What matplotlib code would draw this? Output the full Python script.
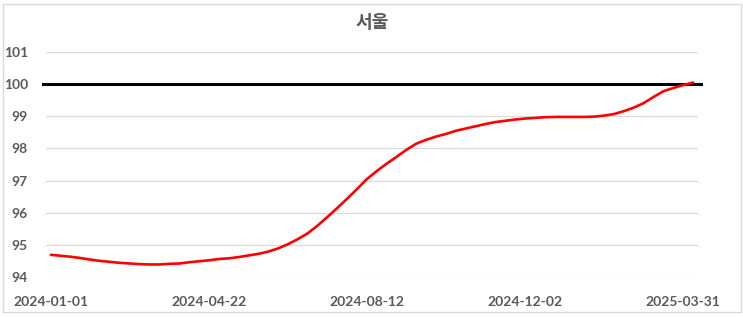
import matplotlib
matplotlib.use("Agg")
import matplotlib.pyplot as plt
from matplotlib.patches import Rectangle

title = "서울"
values = [94.69, 94.66, 94.63, 94.59, 94.54, 94.50, 94.47, 94.44, 94.42, 94.40,
          94.39, 94.39, 94.41, 94.42, 94.46, 94.49, 94.52, 94.56, 94.58, 94.62,
          94.67, 94.72, 94.79, 94.89, 95.02, 95.18, 95.36, 95.60, 95.87, 96.15,
          96.44, 96.74, 97.05, 97.30, 97.53, 97.74, 97.96, 98.15, 98.27, 98.37,
          98.45, 98.55, 98.62, 98.69, 98.76, 98.82, 98.86, 98.90, 98.93, 98.95,
          98.97, 98.98, 98.98, 98.98, 98.98, 98.99, 99.02, 99.07, 99.16, 99.27,
          99.41, 99.60, 99.78, 99.88, 99.97, 100.05]
tick_index = [0, 16, 32, 48, 64]
tick_labels = ["2024-01-01", "2024-04-22", "2024-08-12", "2024-12-02", "2025-03-31"]
y_ticks = [94, 95, 96, 97, 98, 99, 100, 101]
ref_level = 100

W, H = 743, 317
fig = plt.figure(figsize=(W / 100, H / 100), dpi=100)
ax = fig.add_axes([46 / W, 40 / H, (698 - 46) / W, (277 - 52) / H])

x = list(range(len(values)))
ax.plot(x, values, color="#ff0000", lw=1.9, zorder=3, solid_capstyle="round")
ax.axhline(ref_level, xmin=-0.004, xmax=1.004, color="black", lw=2.2, zorder=2, clip_on=False)

ax.set_xlim(-0.5, len(values) - 0.5)
ax.set_ylim(94, 101)
ax.set_yticks(y_ticks)
ax.set_xticks(tick_index)
ax.set_xticklabels(tick_labels)
ax.grid(axis="y", color="#d9d9d9", lw=0.9)
ax.set_axisbelow(True)
for s in ax.spines.values():
    s.set_visible(False)
ax.tick_params(axis="both", length=0, labelcolor="#595959")
ax.tick_params(axis="x", pad=14)
ax.tick_params(axis="y", pad=13)
for lab in ax.get_xticklabels() + ax.get_yticklabels():
    lab.set_fontfamily("Lato")
    lab.set_fontweight("bold")
    lab.set_fontsize(10)

fig.text(372 / W, 1 - 23 / H, title, ha="center", va="center",
         fontsize=13, fontweight="bold", color="#595959",
         family=["Noto Sans CJK KR", "DejaVu Sans"])

fig.patches.append(Rectangle((3 / W, 5 / H), (741 - 3) / W, (317 - 5 - 4) / H,
                             transform=fig.transFigure, fill=False,
                             edgecolor="#d9d9d9", lw=1))

fig.savefig("out.png", dpi=100)
